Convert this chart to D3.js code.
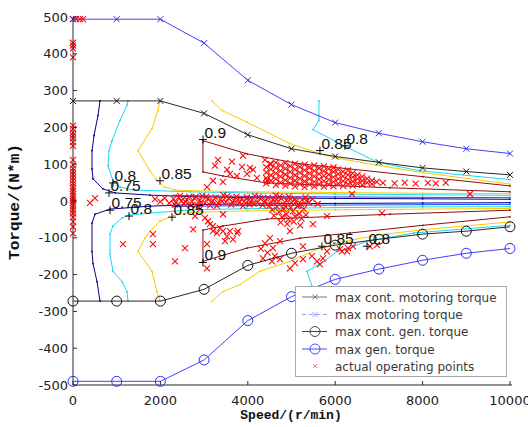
<!DOCTYPE html>
<html><head><meta charset="utf-8">
<script src="https://cdn.jsdelivr.net/npm/d3@7"></script>
<style>body{margin:0;background:#fff}svg{display:block}</style>
</head><body>
<svg id="chart" width="528" height="427"></svg>
<script>
// ---------- data ----------
const speedTicks = [0, 2000, 4000, 6000, 8000, 10000];
const torqueTicks = [-500, -400, -300, -200, -100, 0, 100, 200, 300, 400, 500];

const curveSpeed = [0, 1000, 2000, 3000, 4000, 5000, 6000, 7000, 8000, 9000, 10000];
const maxContMotorT = [272, 272, 272, 238, 180, 142, 121, 105, 90, 80, 71];
const maxMotorT = [494, 494, 494, 429, 328, 262, 213, 184, 161, 142, 129];
const maxContGenT = [-272, -272, -272, -240, -175, -142, -120, -104, -90, -82, -70];
const maxGenT = [-490, -490, -490, -432, -325, -260, -213, -185, -161, -142, -129];

// efficiency contours (speed, torque)
const navyUpS = [618, 572, 481, 435, 435, 458, 686, 961, 1762, 2677, 4000, 6000, 8000, 10000];
const navyUpT = [272, 232, 178, 137, 87, 60, 33, 22, 16, 12, 9, 7, 6, 4.6];
const navyLoS = [618, 549, 458, 435, 435, 504, 847, 1762, 2677, 4000, 6000, 8000, 10000];
const navyLoT = [-272, -219, -170, -137, -60, -36, -22, -14, -10, -8, -6.5, -5.5, -4.6];
const blueUpS = [2300, 4000, 6000, 8000, 10000];
const blueUpT = [15, 12.5, 11, 10, 9];
const blueLoS = [2300, 4000, 6000, 8000, 10000];
const blueLoT = [-15, -12.5, -11, -10, -9];
const cyanUpS = [1259, 1236, 1075, 892, 824, 801, 915, 1075, 1373, 2677, 4000, 6000, 8000, 10000];
const cyanUpT = [272, 260, 219, 164, 137, 96, 55, 38, 30, 25, 22, 19, 17, 15.5];
const cyanLoS = [1259, 1236, 1121, 915, 847, 847, 915, 1121, 1282, 2677, 4000, 6000, 8000, 10000];
const cyanLoT = [-272, -246, -219, -191, -145, -90, -68, -46, -38, -24, -21, -18, -16, -15.5];
const yellowUpS = [1991, 1945, 1808, 1487, 1762, 1900, 2100, 2334, 2677, 4000, 6000, 8000, 10000];
const yellowUpT = [272, 246, 197, 137, 82, 60, 38, 30, 28, 25, 23, 21, 20];
const yellowLoS = [1991, 1922, 1808, 1487, 1647, 1762, 1991, 2288, 2677, 4000, 6000, 8000, 10000];
const yellowLoT = [-272, -246, -191, -137, -101, -82, -55, -40, -31, -27, -24, -22, -20];
const maroonUpS = [10000, 8009, 6339, 5195, 3982, 2974, 2974, 3432, 4439, 7254, 10000];
const maroonUpT = [41, 66, 87, 101, 128, 164, 79, 68, 49, 36, 25];
const maroonLoS = [10000, 7254, 4439, 3432, 2974, 2974, 3982, 5195, 6339, 8009, 10000];
const maroonLoT = [-25, -36, -49, -68, -79, -164, -128, -101, -87, -66, -43];
const yellowOutUpS = [3181, 3410, 3982, 4966, 5652, 6110, 7025, 8009, 10000];
const yellowOutUpT = [272, 246, 214, 156, 128, 115, 96, 77, 46];
const yellowOutLoS = [3181, 3432, 3822, 4279, 4966, 5652, 6110, 7025, 8009, 10000];
const yellowOutLoT = [-272, -246, -227, -191, -164, -128, -112, -92, -78, -57];
const cyanOutUpS = [5629, 5629, 5492, 6200, 6979, 7940, 10000];
const cyanOutUpT = [272, 219, 194, 150, 105, 82, 58];
const cyanOutLoS = [5469, 5355, 5744, 6041, 6430, 6727, 7803, 10000];
const cyanOutLoT = [-232, -191, -164, -137, -123, -109, -87, -66];

// contour labels
const labelText = ["0.9", "0.9", "0.8", "0.75", "0.85", "0.75", "0.8", "0.85", "0.85", "0.8", "0.85", "0.8"];
const labelS = [2974, 2974, 915, 824, 1991, 847, 1282, 2265, 5651, 6223, 5697, 6727];
const labelT = [167, -167, 49, 22, 55, -25, -41, -44, 137, 150, -123, -123];

// actual operating points [speed, torque]
const operatingPoints = [
  [0,494],[70,494],[160,494],[230,494],[0,430],[0,422],[0,415],[0,390],
  [0,205],[0,196],[0,186],[0,178],[0,170],[0,160],[0,150],[0,112],[0,98],[0,88],[0,80],[0,72],
  [0,64],[0,56],[0,48],[0,40],[0,33],[0,26],[0,19],[0,12],[0,6],[0,0],[0,-6],[0,-12],[0,-19],
  [0,-26],[0,-34],[0,-44],[0,-56],[0,-70],[0,-88],[389,-5],[503,8],[1876,5],
  [2000,-2],[2100,8],[2200,-6],
  [2300,6],[2350,-4],[2420,10],[2480,0],[2540,-8],[2600,4],[2660,12],[2720,-2],[2780,7],[2840,-10],
  [2900,2],[2960,14],[3020,-5],[3080,6],[3140,-12],[3200,1],[3260,9],[3320,-6],[3380,4],[3440,16],
  [3500,-3],[3560,8],[3620,-10],[3680,2],[3740,12],[3800,-6],[3860,5],[3920,-1],[3980,10],[4040,-9],
  [4100,3],[4160,14],[4220,-4],[4280,7],[4340,-11],[4400,0],[4460,9],[4520,-6],[4580,4],[4640,15],
  [4700,-2],[4760,7],[4820,-9],[4880,2],[4940,12],[5000,-5],[5080,6],[5160,-12],[5240,3],[5320,10],
  [5400,-4],[5480,5],[5600,-8],
  [2330,-10],[2450,14],[2570,-2],[2690,-12],[2810,11],[2930,-4],[3050,12],[3170,-2],[3290,-13],
  [3410,-1],[3530,13],[3650,-3],[3770,4],[3890,-13],[4010,2],[4130,-7],[4250,12],[4370,-3],
  [4490,-13],[4610,-1],[4730,12],[4850,-14],[4970,6],[5100,-1],[5220,-8],[5350,-1],
  [4420,48],[4420,62],[4420,78],[4420,92],
  [4530,55],[4530,70],[4530,86],[4530,100],
  [4640,44],[4640,60],[4640,75],[4640,90],[4640,104],
  [4750,50],[4750,66],[4750,82],[4750,97],
  [4860,42],[4860,57],[4860,72],[4860,88],[4860,103],
  [4970,48],[4970,63],[4970,79],[4970,95],
  [5080,40],[5080,55],[5080,70],[5080,86],[5080,101],
  [5190,46],[5190,61],[5190,77],[5190,93],
  [5300,38],[5300,53],[5300,68],[5300,84],[5300,99],
  [5410,45],[5410,60],[5410,75],[5410,91],
  [5520,40],[5520,52],[5520,67],[5520,82],[5520,97],
  [5630,46],[5630,59],[5630,74],[5630,89],
  [5740,39],[5740,54],[5740,68],[5740,81],[5740,94],
  [5850,45],[5850,58],[5850,72],[5850,87],
  [5960,40],[5960,52],[5960,65],[5960,79],[5960,91],
  [6070,47],[6070,60],[6070,73],[6070,86],
  [6180,41],[6180,54],[6180,67],[6180,80],
  [6290,46],[6290,58],[6290,71],[6290,83],
  [6400,42],[6400,53],[6400,65],[6400,76],
  [6510,48],[6510,60],[6510,71],
  [6620,44],[6620,55],[6620,66],
  [6730,50],[6730,61],[6840,46],[6840,56],
  [6950,52],[7093,49],[7360,48],[7590,50],[7840,47],[8120,49],[8300,48],[8530,50],
  [6384,19],[9084,19],[7070,-33],[5812,-41],[5491,-63],
  [3318,112],[3638,107],[3249,96],[3524,85],[3890,123],[3867,93],[4050,90],[4118,85],[4393,112],
  [4507,101],[3203,55],[3432,52],[3592,74],[3752,68],[3981,74],[4210,63],[4439,55],[3066,38],
  [4670,-16],[4720,-30],[4780,-44],[4830,-22],[4880,-36],[4930,-50],[4980,-18],[5030,-28],[5080,-42],
  [5130,-14],[5180,-34],[5230,-48],[5280,-22],[5330,-38],[4750,-58],[4900,-62],[5050,-56],[5200,-66],
  [4600,-40],[4560,-24],
  [2750,-77],[2906,-22],[3020,-46],[3135,-63],[3203,-82],[3363,-74],[3432,-82],[3524,-96],[3752,-87],
  [3661,-104],[3775,-82],[3432,-36],[3089,-55],[3203,-68],[3295,-87],[3592,-82],[3478,-109],[2791,-41],
  [1144,-117],[1830,-90],[1830,-117],[2334,-164],[2563,-128],[3066,-117],[3066,-183],
  [4507,-101],[4576,-128],[4736,-109],[4965,-82],[5262,-123],[6155,-137],[6292,-128],[6406,-123],
  [6795,-123],[6956,-120],[5651,-172],[5720,-156],[4347,-156],[4553,-164],[4736,-158],[5079,-169],
  [5262,-158],[5468,-150],[5583,-164],[4965,-183],[5812,-137],[6109,-131],[6269,-137],
  [4393,-115],[4450,-140],[4620,-150],[4300,-130]
];

const legendLabels = ["max cont. motoring torque", "max motoring torque", "max cont. gen. torque", "max gen. torque", "actual operating points"];

// ---------- drawing ----------
const svg = d3.select("#chart");
const x = d3.scaleLinear().domain([0, 10000]).range([73, 510]);
const y = d3.scaleLinear().domain([-500, 500]).range([385, 17]);
const line = d3.line().x(d => x(d[0])).y(d => y(d[1]));
const zip = (a, b) => a.map((v, i) => [v, b[i]]);

const C = {navy: "#00008f", blue: "#1a4dff", cyan: "#18d8f0", yellow: "#f7cc00", maroon: "#8e0c0c"};
const contours = [
  [navyUpS, navyUpT, C.navy], [navyLoS, navyLoT, C.navy],
  [blueUpS, blueUpT, C.blue], [blueLoS, blueLoT, C.blue],
  [cyanUpS, cyanUpT, C.cyan], [cyanLoS, cyanLoT, C.cyan],
  [yellowUpS, yellowUpT, C.yellow], [yellowLoS, yellowLoT, C.yellow],
  [maroonUpS, maroonUpT, C.maroon], [maroonLoS, maroonLoT, C.maroon],
  [yellowOutUpS, yellowOutUpT, C.yellow], [yellowOutLoS, yellowOutLoT, C.yellow],
  [cyanOutUpS, cyanOutUpT, C.cyan], [cyanOutLoS, cyanOutLoT, C.cyan]
];
const gC = svg.append("g");
contours.forEach(([s, t, col]) => {
  const pts = zip(s, t);
  gC.append("path").attr("d", line(pts)).attr("fill", "none").attr("stroke", col).attr("stroke-width", 1);
  gC.selectAll(null).data(pts).enter().append("circle")
    .attr("cx", d => x(d[0])).attr("cy", d => y(d[1])).attr("r", 0.9).attr("fill", col);
});

// operating points
const xMark = (g, cx, cy, h, col, w) => {
  g.append("path").attr("d", `M${cx-h},${cy-h}L${cx+h},${cy+h}M${cx-h},${cy+h}L${cx+h},${cy-h}`)
    .attr("stroke", col).attr("stroke-width", w || 1).attr("fill", "none");
};
const gP = svg.append("g");
operatingPoints.forEach(d => xMark(gP, x(d[0]), y(d[1]), 3, "#ff0a0a", 1.1));

// max torque curves
function curve(t, col, marker) {
  const pts = zip(curveSpeed, t);
  const g = svg.append("g");
  g.append("path").attr("d", line(pts)).attr("fill", "none").attr("stroke", col).attr("stroke-width", 0.9);
  pts.forEach(d => {
    if (marker === "x") xMark(g, x(d[0]), y(d[1]), 3, col, 1);
    else g.append("circle").attr("cx", x(d[0])).attr("cy", y(d[1])).attr("r", 5)
      .attr("fill", "none").attr("stroke", col).attr("stroke-width", 1);
  });
}
curve(maxMotorT, "#2b2bff", "x");
curve(maxContMotorT, "#111", "x");
curve(maxContGenT, "#111", "o");
curve(maxGenT, "#2b2bff", "o");

// contour labels
const gL = svg.append("g");
labelText.forEach((txt, i) => {
  const cx = x(labelS[i]), cy = y(labelT[i]);
  gL.append("path").attr("d", `M${cx-4},${cy}L${cx+4},${cy}M${cx},${cy-4}L${cx},${cy+4}`)
    .attr("stroke", "#111").attr("stroke-width", 1);
  gL.append("text").attr("x", cx + 1.5).attr("y", cy - 2).text(txt)
    .attr("font-family", "Liberation Sans, Arial").attr("font-size", 15.5).attr("fill", "#111");
});

// axes
const ax = svg.append("g").attr("stroke", "#2a2a2a").attr("stroke-width", 1);
ax.append("line").attr("x1", 73).attr("x2", 73).attr("y1", 17).attr("y2", 385);
ax.append("line").attr("x1", 73).attr("x2", 512).attr("y1", 385).attr("y2", 385);
torqueTicks.forEach(t => ax.append("line").attr("x1", 73).attr("x2", 77).attr("y1", y(t)).attr("y2", y(t)));
speedTicks.forEach(s => ax.append("line").attr("x1", x(s)).attr("x2", x(s)).attr("y1", 385).attr("y2", 381));
svg.append("g").selectAll("text").data(torqueTicks).enter().append("text")
  .attr("x", 68).attr("y", d => y(d) + 4.6).attr("text-anchor", "end")
  .attr("font-family", "DejaVu Sans").attr("font-size", 13).attr("fill", "#222").text(d => d);
svg.append("g").selectAll("text").data(speedTicks).enter().append("text")
  .attr("x", d => x(d)).attr("y", 405).attr("text-anchor", "middle")
  .attr("font-family", "DejaVu Sans").attr("font-size", 13).attr("fill", "#222").text(d => d);

svg.append("text").attr("x", 291).attr("y", 419).attr("text-anchor", "middle")
  .attr("font-family", "Liberation Mono").attr("font-weight", "bold").attr("font-size", 13)
  .attr("fill", "#111").text("Speed/(r/min)");
svg.append("text").attr("transform", "translate(19,202) rotate(-90)").attr("text-anchor", "middle")
  .attr("font-family", "Liberation Mono").attr("font-weight", "bold").attr("font-size", 15)
  .attr("textLength", 116).attr("lengthAdjust", "spacingAndGlyphs")
  .attr("fill", "#111").text("Torque/(N*m)");

// legend
const lg = svg.append("g");
lg.append("rect").attr("x", 295.5).attr("y", 286.5).attr("width", 211).attr("height", 90)
  .attr("fill", "#fff").attr("stroke", "#a8a8a8").attr("stroke-width", 1);
const ly = [297, 314.5, 331.5, 349, 366];
const lcol = ["#777", "#9aa0ff", "#444", "#4a4aff", "#ff8080"];
legendLabels.forEach((lab, i) => {
  const yy = ly[i];
  if (i < 4) {
    const ln = lg.append("line").attr("x1", 302).attr("x2", 327).attr("y1", yy).attr("y2", yy)
      .attr("stroke", lcol[i]).attr("stroke-width", 1);
    if (i === 1) ln.attr("stroke-dasharray", "4,3");
  }
  if (i === 0 || i === 1) xMark(lg, 315, yy, 2.5, lcol[i], 1);
  else if (i === 2 || i === 3) lg.append("circle").attr("cx", 315).attr("cy", yy).attr("r", 5)
    .attr("fill", "none").attr("stroke", lcol[i]);
  else xMark(lg, 315, yy, 2, lcol[i], 1);
  lg.append("text").attr("x", 335).attr("y", yy + 4.5).text(lab)
    .attr("font-family", "DejaVu Sans").attr("font-size", 12).attr("fill", "#3a3a3a");
});
</script>
</body></html>
